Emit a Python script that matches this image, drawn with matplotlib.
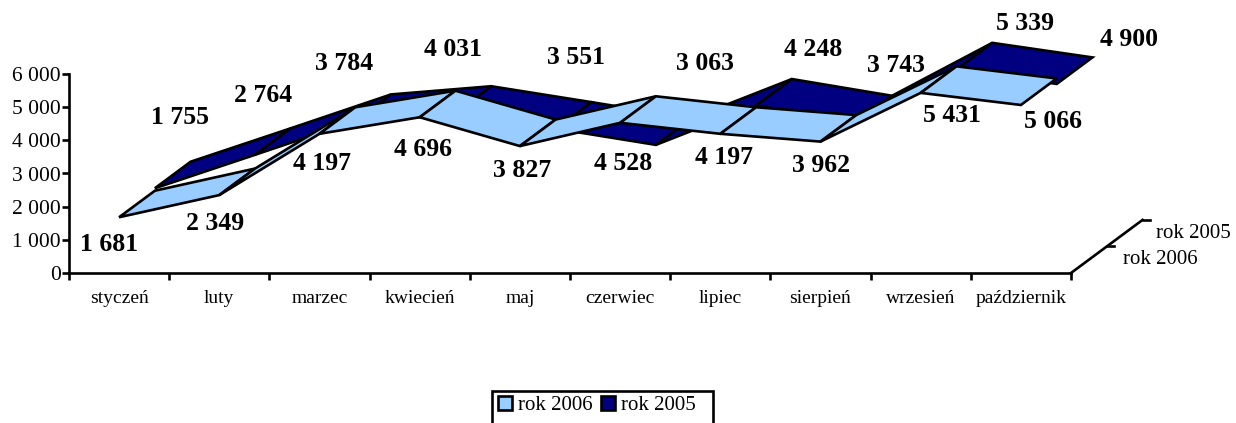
import matplotlib
matplotlib.use("Agg")
import matplotlib.pyplot as plt
from matplotlib.patches import Patch, Polygon, Rectangle

# --- data ---
months = ["styczeń", "luty", "marzec", "kwiecień", "maj", "czerwiec",
          "lipiec", "sierpień", "wrzesień", "październik"]
rok_2006 = [1681, 2349, 4197, 4696, 3827, 4528, 4197, 3962, 5431, 5066]
rok_2005 = [1755, 2764, 3784, 4031, 3551, 3063, 4248, 3743, 5339, 4900]
y_ticks = [0, 1000, 2000, 3000, 4000, 5000, 6000]

# --- layout, in reference pixels ---
W, H = 1236, 423
AX_LEFT, AX_RIGHT, AX_TOP, AX_BOTTOM = 69, 1071, 74, 273
labels_2006 = [(109, 244), (215, 223), (322, 163), (423, 149), (522, 170),
               (623, 164), (724, 158), (821, 165), (952, 115), (1053, 122)]
labels_2005 = [(180, 118), (263, 96), (344, 64), (453, 49), (576, 58),
               (705, 64), (813, 49), (896, 66), (1025, 24), (1129, 39)]

# fake 3D: one depth slot moves this far along the x and value scales
DEPTH_X = 0.357
DEPTH_Y = 800

LIGHT = "#99CCFF"
DARK = "#000080"
LW = 1.9

plt.rcParams["font.family"] = ["Liberation Serif", "DejaVu Sans"]

fig = plt.figure(figsize=(W / 100, H / 100), dpi=100)
ax = fig.add_axes([AX_LEFT / W, 1 - AX_BOTTOM / H,
                   (AX_RIGHT - AX_LEFT) / W, (AX_BOTTOM - AX_TOP) / H])
ax.set_xlim(0, len(months))
ax.set_ylim(0, 6000)


def draw_ribbon(values, slot, color):
    """One quad per segment, running from depth slot to slot + 1."""
    for i in range(len(values) - 1):
        x0 = i + 0.5 + slot * DEPTH_X
        y0 = values[i] + slot * DEPTH_Y
        y1 = values[i + 1] + slot * DEPTH_Y
        corners = [(x0, y0), (x0 + 1, y1),
                   (x0 + 1 + DEPTH_X, y1 + DEPTH_Y), (x0 + DEPTH_X, y0 + DEPTH_Y)]
        ax.add_patch(Polygon(corners, closed=True, facecolor=color, edgecolor="black",
                             linewidth=LW, joinstyle="miter", clip_on=False))


draw_ribbon(rok_2005, 1, DARK)
draw_ribbon(rok_2006, 0, LIGHT)

# depth axis at the right end
n = len(months)
ax.plot([n, n + 2 * DEPTH_X], [0, 2 * DEPTH_Y], color="black", lw=LW, clip_on=False)
for slot in (1, 2):
    ax.plot([n + slot * DEPTH_X, n + slot * DEPTH_X + 0.07], [slot * DEPTH_Y] * 2,
            color="black", lw=LW, clip_on=False)

for s in ("top", "right"):
    ax.spines[s].set_visible(False)
for s in ("left", "bottom"):
    ax.spines[s].set_linewidth(LW)

ax.set_xticks(range(n + 1))
ax.set_xticklabels([])
ax.set_xticks([i + 0.5 for i in range(n)], minor=True)
ax.set_xticklabels(months, minor=True, fontsize=14)
ax.tick_params(axis="x", which="minor", length=0, pad=12)
ax.tick_params(axis="x", which="major", length=5, width=LW)
ax.set_yticks(y_ticks)
ax.set_yticklabels([f"{v:,}".replace(",", " ") for v in y_ticks], fontsize=15.5)
ax.tick_params(axis="y", length=5, width=LW, pad=1)

for vals, places in ((rok_2006, labels_2006), (rok_2005, labels_2005)):
    for v, (px, py) in zip(vals, places):
        fig.text(px / W, 1 - py / H, f"{v:,}".replace(",", " "), fontsize=18.5,
                 fontweight="bold", ha="center", va="center")

fig.text(1193 / W, 1 - 233 / H, "rok 2005", fontsize=15, ha="center", va="center")
fig.text(1160 / W, 1 - 260 / H, "rok 2006", fontsize=15, ha="center", va="center")

# legend box runs off the bottom of the picture, and has more room on the right
fig.add_artist(Rectangle((492 / W, -20 / H), 221 / W, (423 - 391 + 20) / H,
                         transform=fig.transFigure, facecolor="white",
                         edgecolor="black", linewidth=LW))
handles = [Patch(facecolor=LIGHT, edgecolor="black", linewidth=LW, label="rok 2006"),
           Patch(facecolor=DARK, edgecolor="black", linewidth=LW, label="rok 2005")]
fig.legend(handles=handles, loc="upper left", bbox_to_anchor=(498 / W, 1 - 396 / H),
           ncol=2, fontsize=15, frameon=False, borderaxespad=0, borderpad=0,
           handlelength=0.67, handleheight=0.67, handletextpad=0.28, columnspacing=0.42)

fig.savefig("out.png", dpi=100)
